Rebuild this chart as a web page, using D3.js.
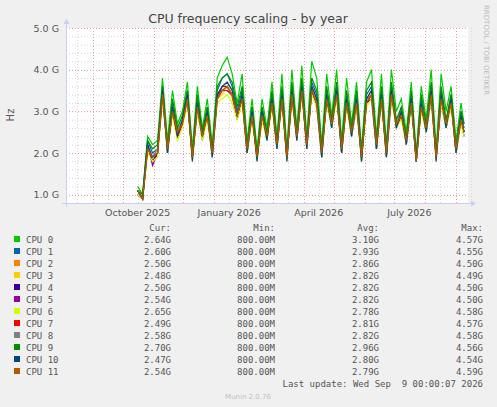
<!DOCTYPE html>
<html>
<head>
<meta charset="utf-8">
<script src="https://cdn.jsdelivr.net/npm/d3@7"></script>
<style>
body { margin: 0; background: #f0f0f0; }
svg { display: block; }
</style>
</head>
<body>
<svg width="497" height="407"></svg>
<script>
// data (GHz, roughly every 5 days from Oct 16 2025)
var startDay = "2025-10-16"
var endDay = "2026-09-09"
var cpuNames = ["CPU 0","CPU 1","CPU 2","CPU 3","CPU 4","CPU 5","CPU 6","CPU 7","CPU 8","CPU 9","CPU 10","CPU 11"]
var cpuColors = ["#00cc00","#0066b3","#ff8000","#ffcc00","#330099","#990099","#ccff00","#ff0000","#808080","#008f00","#00487d","#b35a00"]

var cpu0 = [1.2,1.0,2.4,2.2,2.3,3.8,2.3,3.5,2.7,3.0,3.7,2.1,3.6,2.6,3.3,2.2,3.8,4.1,4.3,3.9,3.2,3.9,2.3,3.3,2.1,3.3,2.6,3.7,2.4,3.9,2.1,4.0,2.6,4.1,2.4,4.2,3.8,2.2,3.9,2.9,4.0,2.3,3.8,2.7,3.7,2.1,3.7,4.0,2.4,3.9,2.2,4.0,3.0,3.3,2.5,3.7,2.0,3.6,2.8,4.0,2.1,3.9,3.0,3.6,2.3,3.2,2.7]
var cpu1 = [1.1,0.9,2.3,2.0,2.1,3.6,2.0,3.2,2.5,2.8,3.5,1.9,3.3,2.4,3.1,2.0,3.5,3.8,3.9,3.6,3.0,3.5,2.1,3.1,1.9,3.1,2.4,3.4,2.2,3.5,1.9,3.6,2.4,3.7,2.2,3.7,3.4,1.9,3.5,2.7,3.6,2.1,3.4,2.5,3.4,1.8,3.4,3.6,2.2,3.5,2.0,3.6,2.7,3.1,2.3,3.4,1.8,3.3,2.6,3.6,1.9,3.5,2.7,3.4,2.0,3.0,2.6]
var cpu2 = [1.0,0.9,2.1,1.9,2.0,3.5,2.1,3.1,2.5,2.7,3.4,1.9,3.2,2.4,3.0,2.0,3.4,3.6,3.7,3.5,2.9,3.4,2.1,3.0,1.9,3.0,2.4,3.3,2.2,3.4,1.9,3.5,2.4,3.6,2.2,3.6,3.3,2.0,3.4,2.7,3.5,2.1,3.3,2.5,3.3,1.9,3.3,3.5,2.2,3.4,2.0,3.5,2.7,3.0,2.3,3.3,1.8,3.2,2.6,3.5,1.9,3.4,2.7,3.3,2.1,2.9,2.5]
var cpu3 = [1.1,0.9,2.0,1.9,2.1,3.4,2.2,3.0,2.6,2.7,3.3,2.0,3.1,2.5,2.9,2.1,3.3,3.4,3.6,3.3,2.9,3.3,2.2,2.9,2.0,2.9,2.5,3.2,2.3,3.3,2.0,3.4,2.5,3.5,2.3,3.4,3.2,2.0,3.3,2.8,3.4,2.2,3.2,2.6,3.2,1.9,3.2,3.4,2.3,3.3,2.0,3.4,2.8,2.9,2.4,3.2,1.9,3.1,2.7,3.4,2.0,3.3,2.8,3.2,2.2,2.8,2.5]
var cpu4 = [1.0,0.9,2.2,1.8,2.0,3.3,2.1,3.0,2.4,2.7,3.3,1.9,3.0,2.4,2.9,1.9,3.3,3.5,3.5,3.4,2.8,3.3,2.0,2.9,1.9,2.8,2.4,3.2,2.1,3.3,1.9,3.3,2.4,3.5,2.1,3.5,3.1,1.9,3.3,2.6,3.4,2.0,3.2,2.4,3.1,1.9,3.2,3.3,2.1,3.3,1.9,3.3,2.7,2.9,2.2,3.2,1.8,3.1,2.5,3.3,1.9,3.2,2.6,3.2,2.0,2.8,2.4]
var cpu5 = [1.1,0.9,2.2,1.7,2.0,3.4,2.0,3.1,2.5,2.7,3.4,1.9,3.1,2.3,2.9,2.0,3.3,3.6,3.6,3.4,2.9,3.3,2.0,2.9,1.9,2.9,2.3,3.3,2.2,3.4,1.9,3.4,2.3,3.5,2.2,3.5,3.2,2.0,3.3,2.7,3.5,2.0,3.2,2.5,3.3,1.9,3.2,3.4,2.1,3.3,2.0,3.4,2.6,2.9,2.3,3.3,1.8,3.1,2.6,3.4,1.9,3.3,2.7,3.2,2.0,2.8,2.5]
var cpu6 = [1.0,0.9,2.0,1.8,1.9,3.3,2.0,2.9,2.3,2.6,3.2,1.8,3.0,2.3,2.8,1.9,3.2,3.3,3.4,3.2,2.8,3.2,2.0,2.8,1.8,2.8,2.3,3.1,2.1,3.2,1.8,3.3,2.3,3.4,2.1,3.4,3.1,1.9,3.2,2.6,3.3,2.0,3.1,2.4,3.1,1.8,3.1,3.3,2.1,3.2,1.9,3.3,2.6,2.8,2.2,3.1,1.8,3.0,2.5,3.3,1.8,3.2,2.6,3.1,2.0,2.7,2.4]
var cpu7 = [1.1,0.9,2.1,1.9,2.0,3.4,2.1,3.0,2.4,2.7,3.3,1.9,3.1,2.4,2.9,2.0,3.4,3.5,3.5,3.4,2.9,3.3,2.1,2.9,1.9,2.9,2.4,3.2,2.2,3.3,1.9,3.4,2.4,3.5,2.2,3.5,3.2,2.0,3.3,2.7,3.4,2.1,3.2,2.5,3.2,1.9,3.2,3.4,2.2,3.3,2.0,3.4,2.7,2.9,2.3,3.2,1.9,3.1,2.6,3.4,1.9,3.3,2.7,3.2,2.1,2.8,2.5]
var cpu8 = [1.1,0.9,2.1,1.9,2.1,3.4,2.1,3.0,2.5,2.8,3.3,2.0,3.1,2.4,3.0,2.0,3.3,3.5,3.6,3.4,2.9,3.4,2.1,2.9,1.9,3.0,2.4,3.2,2.2,3.3,2.0,3.4,2.4,3.5,2.2,3.5,3.2,2.0,3.3,2.7,3.4,2.1,3.3,2.5,3.2,1.9,3.3,3.4,2.2,3.3,2.0,3.4,2.7,3.0,2.3,3.2,1.9,3.2,2.6,3.4,2.0,3.3,2.7,3.2,2.1,2.8,2.6]
var cpu9 = [1.1,1.0,2.3,2.1,2.2,3.6,2.2,3.3,2.6,2.9,3.5,2.0,3.4,2.5,3.1,2.1,3.6,3.8,3.9,3.7,3.1,3.6,2.2,3.1,2.0,3.1,2.5,3.5,2.3,3.6,2.0,3.7,2.5,3.8,2.3,3.8,3.5,2.1,3.6,2.8,3.7,2.2,3.5,2.6,3.5,2.0,3.5,3.7,2.3,3.6,2.1,3.7,2.8,3.1,2.4,3.5,1.9,3.4,2.7,3.7,2.0,3.6,2.8,3.4,2.2,3.0,2.7]
var cpu10 = [1.1,0.9,2.2,1.9,2.0,3.5,2.0,3.1,2.4,2.8,3.4,1.8,3.2,2.4,3.0,1.9,3.4,3.6,3.7,3.5,2.9,3.4,2.0,3.0,1.8,3.0,2.3,3.3,2.1,3.4,1.8,3.5,2.3,3.6,2.1,3.6,3.3,1.9,3.4,2.6,3.5,2.0,3.3,2.4,3.3,1.8,3.3,3.5,2.1,3.4,1.9,3.5,2.6,3.0,2.2,3.3,1.8,3.2,2.5,3.5,1.8,3.4,2.6,3.3,2.0,2.9,2.5]
var cpu11 = [1.1,0.9,2.1,1.9,2.0,3.4,2.1,3.0,2.5,2.7,3.3,1.9,3.1,2.4,2.9,2.0,3.3,3.5,3.6,3.4,2.9,3.3,2.1,2.9,1.9,2.9,2.4,3.2,2.2,3.3,1.9,3.4,2.4,3.5,2.2,3.5,3.2,2.0,3.3,2.7,3.4,2.1,3.2,2.5,3.2,1.9,3.2,3.4,2.2,3.3,2.0,3.4,2.7,2.9,2.3,3.2,1.8,3.1,2.6,3.4,1.9,3.3,2.7,3.2,2.1,2.8,2.5]
var allSeries = [cpu0,cpu1,cpu2,cpu3,cpu4,cpu5,cpu6,cpu7,cpu8,cpu9,cpu10,cpu11]

var curVals = ["2.64G","2.60G","2.50G","2.48G","2.50G","2.54G","2.65G","2.49G","2.58G","2.70G","2.47G","2.54G"]
var minVals = ["800.00M","800.00M","800.00M","800.00M","800.00M","800.00M","800.00M","800.00M","800.00M","800.00M","800.00M","800.00M"]
var avgVals = ["3.10G","2.93G","2.86G","2.82G","2.82G","2.82G","2.78G","2.81G","2.82G","2.96G","2.80G","2.79G"]
var maxVals = ["4.57G","4.55G","4.50G","4.49G","4.50G","4.50G","4.58G","4.57G","4.58G","4.56G","4.54G","4.59G"]
var yTicks = [1,2,3,4,5]
var monthLabels = [["October 2025","2025-10-16"],["January 2026","2026-01-16"],["April 2026","2026-04-16"],["July 2026","2026-07-16"]]

var parse = d3.timeParse("%Y-%m-%d")
var svg = d3.select("svg")
var plot = {left: 66, right: 468, top: 28, bottom: 203}

var x = d3.scaleTime()
    .domain([parse("2025-08-05"), parse("2026-09-13")])
    .range([plot.left, plot.right])
var y = d3.scaleLinear()
    .domain([0.8, 5.0])
    .range([plot.bottom, plot.top])

var dates = cpu0.map(function(v, i)
{
    if (i == cpu0.length - 1) return parse(endDay)
    return d3.timeDay.offset(parse(startDay), i * 5)
})

svg.append("rect")
    .attr("x", plot.left).attr("y", plot.top)
    .attr("width", plot.right - plot.left).attr("height", plot.bottom - plot.top)
    .attr("fill", "white")

// minor grid
var minorY = d3.range(0.8, 5.01, 0.2)
svg.selectAll(".gy").data(minorY).enter().append("line")
    .attr("x1", plot.left).attr("x2", plot.right)
    .attr("y1", function(d) {return y(d) + 0.5}).attr("y2", function(d) {return y(d) + 0.5})
    .attr("stroke", "#d8d8d8").attr("stroke-dasharray", "1,2")
var midMonths = d3.timeMonth.range(parse("2025-08-01"), parse("2026-09-14")).map(function(d) {return d3.timeDay.offset(d, 15)})
svg.selectAll(".gx").data(midMonths).enter().append("line")
    .attr("y1", plot.top).attr("y2", plot.bottom)
    .attr("x1", function(d) {return Math.round(x(d)) + 0.5}).attr("x2", function(d) {return Math.round(x(d)) + 0.5})
    .attr("stroke", "#d8d8d8").attr("stroke-dasharray", "1,2")

// major grid
svg.selectAll(".my").data(yTicks).enter().append("line")
    .attr("x1", plot.left).attr("x2", plot.right)
    .attr("y1", function(d) {return Math.round(y(d)) + 0.5}).attr("y2", function(d) {return Math.round(y(d)) + 0.5})
    .attr("stroke", "#e8a0a0").attr("stroke-dasharray", "1,2")
svg.selectAll(".mx").data(d3.timeMonth.range(parse("2025-08-06"), parse("2026-09-14"))).enter().append("line")
    .attr("y1", plot.top).attr("y2", plot.bottom)
    .attr("x1", function(d) {return Math.round(x(d)) + 0.5}).attr("x2", function(d) {return Math.round(x(d)) + 0.5})
    .attr("stroke", "#e8a0a0").attr("stroke-dasharray", "1,2")

// series, CPU 0 first so CPU 11 ends on top
var line = d3.line()
    .x(function(v, i) {return x(dates[i])})
    .y(function(v) {return y(v)})
svg.selectAll(".series").data(allSeries).enter().append("path")
    .attr("d", line)
    .attr("fill", "none")
    .attr("stroke", function(d, i) {return cpuColors[i]})
    .attr("stroke-width", 1.2)

// axes lines with arrows
var axisCol = "#c8d0f0"
svg.append("line").attr("x1", plot.left + 0.5).attr("x2", plot.left + 0.5).attr("y1", plot.bottom + 4).attr("y2", plot.top - 6).attr("stroke", axisCol)
svg.append("line").attr("x1", plot.left - 4).attr("x2", plot.right + 4).attr("y1", plot.bottom + 0.5).attr("y2", plot.bottom + 0.5).attr("stroke", axisCol)
svg.append("path").attr("d", "M" + (plot.left - 2.5) + "," + (plot.top - 4) + "L" + (plot.left + 3.5) + "," + (plot.top - 4) + "L" + (plot.left + 0.5) + "," + (plot.top - 9) + "Z").attr("fill", axisCol)
svg.append("path").attr("d", "M" + (plot.right + 3) + "," + (plot.bottom - 2.5) + "L" + (plot.right + 3) + "," + (plot.bottom + 3.5) + "L" + (plot.right + 8) + "," + (plot.bottom + 0.5) + "Z").attr("fill", axisCol)

var font = "DejaVu Sans, sans-serif"
svg.selectAll(".yl").data(yTicks).enter().append("text")
    .attr("x", plot.left - 7).attr("y", function(d) {return y(d) + 3.5})
    .attr("text-anchor", "end").attr("font-family", font).attr("font-size", 9.5).attr("fill", "#555")
    .text(function(d) {return d3.format(".1f")(d) + " G"})
svg.selectAll(".xl").data(monthLabels).enter().append("text")
    .attr("x", function(d) {return x(parse(d[1]))}).attr("y", plot.bottom + 13)
    .attr("text-anchor", "middle").attr("font-family", font).attr("font-size", 9.5).attr("fill", "#555")
    .text(function(d) {return d[0]})

svg.append("text").attr("x", 248).attr("y", 23).attr("text-anchor", "middle")
    .attr("font-family", font).attr("font-size", 12.5).attr("fill", "#444")
    .text("CPU frequency scaling - by year")
svg.append("text").attr("transform", "translate(14,115) rotate(-90)").attr("text-anchor", "middle")
    .attr("font-family", font).attr("font-size", 10).attr("fill", "#555").text("Hz")
svg.append("text").attr("transform", "translate(484,5) rotate(90)").attr("text-anchor", "start")
    .attr("font-family", font).attr("font-size", 7).attr("fill", "#bbb").text("RRDTOOL / TOBI OETIKER")

// legend
var mono = "DejaVu Sans Mono, monospace"
var cols = [[171, "Cur:", curVals], [275, "Min:", minVals], [379, "Avg:", avgVals], [483, "Max:", maxVals]]
cols.forEach(function(c)
{
    svg.append("text").attr("x", c[0]).attr("y", 231).attr("text-anchor", "end")
        .attr("font-family", mono).attr("font-size", 9).attr("fill", "#555").text(c[1])
    svg.selectAll(null).data(c[2]).enter().append("text")
        .attr("x", c[0]).attr("y", function(d, i) {return 243 + i * 12})
        .attr("text-anchor", "end").attr("font-family", mono).attr("font-size", 9).attr("fill", "#555")
        .text(function(d) {return d})
})
svg.selectAll(".lg").data(cpuNames).enter().append("rect")
    .attr("x", 14).attr("y", function(d, i) {return 236 + i * 12})
    .attr("width", 6).attr("height", 6)
    .attr("fill", function(d, i) {return cpuColors[i]})
svg.selectAll(".ln").data(cpuNames).enter().append("text")
    .attr("x", 26).attr("y", function(d, i) {return 243 + i * 12})
    .attr("font-family", mono).attr("font-size", 9).attr("fill", "#555")
    .text(function(d) {return d})
svg.append("text").attr("x", 483).attr("y", 387).attr("text-anchor", "end")
    .attr("font-family", mono).attr("font-size", 9).attr("fill", "#555")
    .attr("xml:space", "preserve").style("white-space", "pre")
    .text("Last update: Wed Sep  9 00:00:07 2026")
svg.append("text").attr("x", 248).attr("y", 399).attr("text-anchor", "middle")
    .attr("font-family", font).attr("font-size", 7).attr("fill", "#c0c0c0").text("Munin 2.0.76")
</script>
</body>
</html>
